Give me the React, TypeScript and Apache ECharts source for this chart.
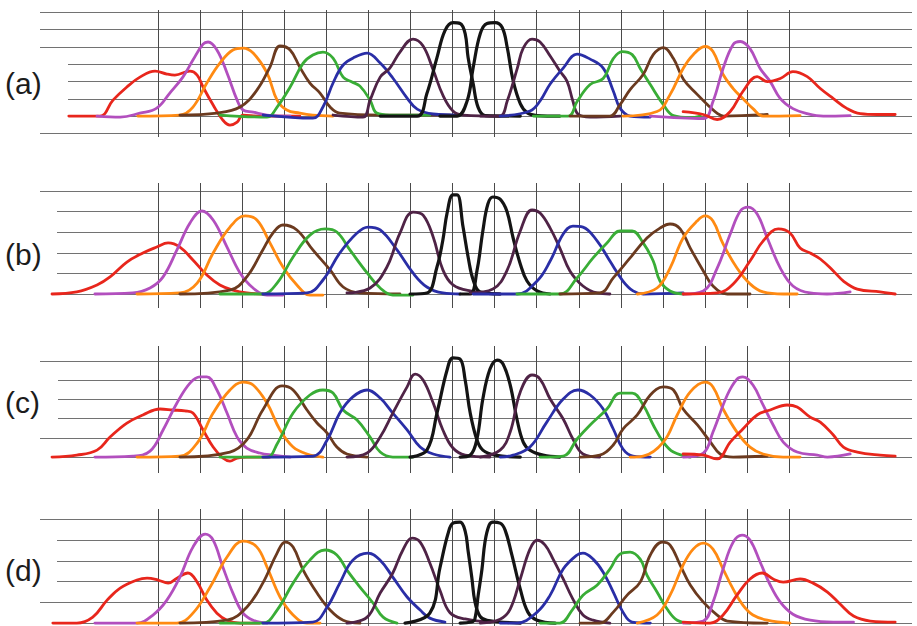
import React, { useEffect, useRef } from "react";
import * as echarts from "echarts";

type Pt = [number, number];

// Channel order across each panel (left to right)
const channelColors = [
  "#e8261c", "#b24fbe", "#ff8a12", "#6b3a1f", "#39ad36", "#2a2ea6", "#4f2346", "#141414",
  "#141414", "#4f2346", "#2a2ea6", "#39ad36", "#6b3a1f", "#ff8a12", "#b24fbe", "#e8261c",
];

const panelLabels = ["(a)", "(b)", "(c)", "(d)"];

// Reference grid: one vertical line per channel centre, horizontal levels in response units
const channelMarks = [1, 2, 3, 4, 5, 6, 7, 8, 9, 10, 11, 12, 13, 14, 15, 16];
const levelsA = [-1, 1, 2, 3, 4, 5, 6];
const levelsB = [1, 2, 3, 4, 5];
const levelsC = [1, 2, 3, 4, 5];
const levelsD = [1, 2, 3, 4, 5];

// Response curves, x = channel position, y = response
const curvesA: Pt[][] = [
  [[-1.12,0],[-0.38,0],[-0.07,0.92],[0.26,1.68],[0.57,2.25],[0.93,2.6],[1.21,2.43],[1.4,2.37],[1.76,2.6],[1.93,2.37],[2.07,1.68],[2.31,0.64],[2.54,-0.23],[2.71,-0.52],[2.88,-0.35],[3.02,0.06],[3.42,0],[4.37,0]],
  [[-0.45,0],[0.1,-0.06],[0.57,0.17],[0.97,0.46],[1.28,1.33],[1.59,2.25],[1.83,3.24],[2.07,4.16],[2.19,4.28],[2.4,3.82],[2.64,2.49],[2.88,0.92],[3.02,0.35],[3.26,0.23],[3.59,0.06],[4.14,0]],
  [[0.52,0],[1.52,0.06],[1.83,0.52],[2.16,1.91],[2.47,3.06],[2.78,3.82],[3.02,3.93],[3.26,3.64],[3.59,2.49],[3.83,0.92],[4.06,0.35],[4.37,0.17],[4.68,0.06],[5.16,0]],
  [[1.52,0.06],[2.4,0.17],[2.95,0.52],[3.35,1.5],[3.66,2.83],[3.9,4.05],[4.14,3.82],[4.37,2.83],[4.61,1.91],[4.85,1.33],[5.09,0.52],[5.32,0.17],[6.28,0.06],[7.94,0.06]],
  [[2.47,0.06],[3.59,-0.06],[3.83,0.52],[4.14,1.68],[4.45,3.06],[4.68,3.53],[4.92,3.7],[5.16,3.35],[5.4,2.25],[5.61,1.97],[5.8,1.73],[6.04,0.92],[6.2,0.17],[6.51,0.06],[7.46,0.06]],
  [[3.5,0.06],[4.68,-0.12],[4.92,0.52],[5.16,1.91],[5.4,2.95],[5.68,3.41],[5.97,3.64],[6.28,3.06],[6.58,2.2],[6.92,1.04],[7.16,0.4],[7.54,0.12],[8.18,0.06]],
  [[5.16,0.06],[5.87,-0.06],[6.04,0.92],[6.28,2.25],[6.51,2.77],[6.75,3.7],[7.06,4.45],[7.3,4.05],[7.54,2.66],[7.77,1.21],[8.01,0.29],[8.25,0.06],[9.13,0]],
  [[6.28,0],[7.16,0],[7.39,1.3],[7.63,3.38],[7.82,4.94],[8.01,5.4],[8.18,5.35],[8.3,4.77],[8.37,3.38],[8.49,1.88],[8.61,0.49],[8.78,0.03],[9.61,0]],
  [[7.7,0],[8.11,0],[8.35,0.9],[8.49,2.8],[8.66,4.77],[8.82,5.35],[9.01,5.4],[9.18,5.12],[9.3,3.96],[9.44,2.05],[9.61,0.72],[9.77,0.2],[10.01,0.03],[10.55,0]],
  [[8.66,0],[9.13,0],[9.3,0.87],[9.54,2.77],[9.68,3.93],[9.89,4.45],[10.08,4.28],[10.32,3.47],[10.55,2.6],[10.72,2.02],[10.86,0.87],[10.98,0.12],[11.27,-0.06],[11.98,0]],
  [[9.13,0],[9.84,0.29],[10.08,0.87],[10.32,1.85],[10.63,2.77],[10.96,3.58],[11.27,3.29],[11.58,2.77],[11.82,1.45],[11.98,0.46],[12.22,0],[12.7,-0.06]],
  [[9.92,0],[10.75,0],[10.96,0.84],[11.27,1.82],[11.58,2.17],[11.82,3.32],[12.03,3.73],[12.27,3.55],[12.46,2.75],[12.7,1.82],[13.01,0.66],[13.25,0.03],[13.65,-0.09],[13.89,0]],
  [[10.79,0],[11.74,0],[11.98,0.66],[12.22,1.53],[12.53,2.4],[12.77,3.55],[13.01,3.96],[13.25,3.32],[13.49,2.11],[13.82,1.24],[14.06,0.66],[14.3,0.14],[14.44,0],[15.48,0.09]],
  [[12.05,0],[12.86,0.26],[13.17,1.24],[13.48,2.75],[13.72,3.55],[14.0,4.02],[14.19,3.73],[14.43,2.4],[14.67,1.59],[14.9,1.01],[15.14,0.43],[15.38,0],[16.26,0.03]],
  [[12.7,0],[13.96,-0.14],[14.19,0.84],[14.43,2.75],[14.67,4.14],[14.84,4.31],[15.07,3.9],[15.31,2.75],[15.55,1.99],[15.79,1.01],[16.09,0.43],[16.43,0.14],[16.81,0],[17.45,0.03]],
  [[13.48,0.26],[13.96,0.09],[14.29,-0.2],[14.6,0.26],[14.9,1.42],[15.24,2.28],[15.48,1.99],[15.79,2.17],[16.09,2.57],[16.43,2.28],[16.74,1.59],[17.05,1.01],[17.38,0.43],[17.69,0.14],[18.09,0.09],[18.52,0.09]],
];

const curvesB: Pt[][] = [
  [[-1.52,0],[-0.93,0.1],[-0.45,0.44],[-0.14,0.83],[0.26,1.55],[0.64,1.99],[0.97,2.28],[1.24,2.48],[1.52,2.28],[1.83,1.65],[2.16,0.92],[2.47,0.44],[2.78,0.19],[3.11,0.05],[3.49,0]],
  [[-0.5,0],[0.4,0.05],[0.81,0.29],[1.12,0.83],[1.45,2.14],[1.76,3.45],[2.04,4.03],[2.31,3.59],[2.64,2.28],[2.95,1.02],[3.26,0.29],[3.59,-0.05],[3.97,-0.05]],
  [[0.5,0],[1.52,0.05],[1.93,0.53],[2.31,1.99],[2.71,3.25],[3.07,3.79],[3.35,3.59],[3.66,2.48],[3.97,1.31],[4.3,0.44],[4.61,-0.05],[4.92,-0.05]],
  [[1.52,0],[2.71,0.19],[3.11,0.83],[3.49,2.14],[3.73,2.96],[3.97,3.35],[4.3,3.11],[4.68,2.14],[5.09,1.17],[5.4,0.34],[5.8,0.05],[6.75,0]],
  [[2.47,0],[3.49,0],[3.83,0.53],[4.21,1.8],[4.61,2.86],[4.97,3.16],[5.25,3.01],[5.56,2.14],[5.97,1.02],[6.28,0.29],[6.58,-0.05],[7.06,-0.05]],
  [[3.49,0],[4.54,0.05],[4.92,0.68],[5.32,1.99],[5.73,2.96],[5.99,3.25],[6.28,3.11],[6.68,2.14],[7.06,1.02],[7.39,0.34],[7.77,0.05],[8.18,0]],
  [[5.49,0.05],[6.04,0.29],[6.44,1.31],[6.75,2.96],[7.06,3.98],[7.3,3.83],[7.54,2.77],[7.77,1.17],[8.01,0.44],[8.42,0.15],[9.13,0]],
  [[6.99,0],[7.39,0.05],[7.63,1.31],[7.77,2.62],[7.87,3.93],[8.01,4.81],[8.11,4.81],[8.25,3.25],[8.37,1.8],[8.49,0.68],[8.66,0.1],[9.13,0]],
  [[8.18,0],[8.42,0],[8.58,1.12],[8.72,3.06],[8.84,4.37],[8.96,4.71],[9.13,4.61],[9.29,4.03],[9.44,2.72],[9.61,1.46],[9.77,0.63],[10.01,0.15],[10.32,0]],
  [[8.42,0.05],[8.96,0.24],[9.29,1.12],[9.61,3.06],[9.89,4.08],[10.08,3.93],[10.32,3.2],[10.55,2.23],[10.79,1.12],[11.1,0.39],[11.44,0.05],[11.74,0]],
  [[8.49,0],[9.53,0],[10.01,0.63],[10.32,1.6],[10.63,2.91],[10.86,3.3],[11.1,3.25],[11.44,2.57],[11.74,1.6],[12.05,0.63],[12.29,0.15],[12.53,0],[13.48,0.05]],
  [[9.53,0],[10.55,0],[10.96,0.78],[11.34,1.75],[11.67,2.48],[11.98,3.06],[12.27,3.06],[12.53,2.48],[12.77,1.6],[12.93,0.63],[13.17,0.15],[13.48,0]],
  [[10.55,0],[11.5,0.05],[11.82,0.78],[12.22,1.75],[12.62,2.72],[12.93,3.2],[13.17,3.4],[13.41,3.16],[13.65,2.23],[13.96,1.12],[14.19,0.39],[14.53,0],[15.07,0]],
  [[12.39,0],[12.86,0.29],[13.17,1.26],[13.48,2.72],[13.81,3.54],[14.0,3.79],[14.19,3.54],[14.43,2.43],[14.76,1.26],[15.07,0.49],[15.38,0.1],[15.86,0],[16.19,0]],
  [[13.48,0],[13.96,0.15],[14.29,1.26],[14.6,2.91],[14.84,4.03],[15.03,4.22],[15.24,3.88],[15.48,2.72],[15.79,1.26],[16.09,0.39],[16.5,0.05],[16.9,0],[17.45,0.1]],
  [[13.48,0],[14.29,0.05],[14.67,0.49],[15.07,1.6],[15.38,2.57],[15.74,3.16],[16.02,2.96],[16.26,2.23],[16.5,1.99],[16.74,1.7],[17.05,1.12],[17.29,0.63],[17.62,0.24],[18.16,0.1],[18.52,0]],
];

const curvesC: Pt[][] = [
  [[-1.52,0],[-0.93,0.1],[-0.45,0.36],[-0.14,1.04],[0.26,1.77],[0.64,2.19],[1.05,2.5],[1.35,2.45],[1.64,2.4],[1.83,2.29],[2.07,1.41],[2.31,0.52],[2.54,-0.05],[2.71,-0.21],[2.88,-0.05],[3.11,0],[3.66,0]],
  [[-0.5,0],[0.4,0.05],[0.81,0.31],[1.12,1.41],[1.45,2.81],[1.76,3.85],[2.0,4.17],[2.16,4.17],[2.4,3.49],[2.64,2.29],[2.88,1.04],[3.11,0.47],[3.42,0.21],[3.73,0.1],[4.14,0]],
  [[0.5,0],[1.52,0.05],[1.93,0.73],[2.31,2.29],[2.71,3.49],[3.02,3.9],[3.26,3.75],[3.59,2.81],[3.9,1.41],[4.21,0.52],[4.54,0.16],[4.92,0]],
  [[1.52,0],[2.71,0.26],[3.11,0.89],[3.49,2.45],[3.95,3.7],[4.21,3.49],[4.54,2.45],[4.78,1.77],[5.02,1.25],[5.25,0.52],[5.49,0.16],[5.97,0]],
  [[2.47,0],[3.59,0],[3.83,0.68],[4.21,2.29],[4.61,3.23],[4.92,3.49],[5.16,3.33],[5.4,2.45],[5.73,1.93],[6.04,1.04],[6.28,0.26],[6.58,0],[7.06,0]],
  [[3.49,0],[4.68,0.05],[5.02,0.89],[5.32,2.29],[5.63,3.13],[5.97,3.49],[6.28,3.07],[6.58,2.29],[6.92,1.41],[7.23,0.52],[7.54,0.16],[7.94,0]],
  [[5.49,0],[5.97,0.21],[6.28,1.04],[6.58,2.29],[6.92,3.65],[7.11,4.32],[7.3,4.01],[7.54,2.81],[7.77,1.41],[8.01,0.47],[8.3,0.1],[8.89,0]],
  [[6.99,0],[7.39,0.36],[7.63,2.29],[7.87,4.53],[8.01,5.16],[8.18,5.1],[8.3,4.01],[8.42,2.29],[8.58,0.89],[8.72,0.36],[9.01,0.1],[9.61,0]],
  [[8.18,0],[8.42,0.1],[8.58,0.94],[8.72,3.02],[8.89,4.58],[9.06,5.05],[9.2,4.84],[9.37,3.75],[9.53,1.98],[9.68,0.78],[9.84,0.36],[10.15,0.1],[10.55,0]],
  [[8.66,0],[9.13,0.36],[9.37,1.3],[9.61,3.39],[9.89,4.27],[10.08,4.06],[10.32,3.02],[10.63,1.98],[10.86,0.94],[11.1,0.16],[11.5,0]],
  [[9.13,0],[9.44,0.1],[9.84,0.52],[10.24,1.82],[10.63,3.02],[10.98,3.49],[11.27,3.23],[11.58,2.5],[11.82,1.46],[12.05,0.42],[12.29,0.05],[12.7,0]],
  [[10.08,0],[10.63,0.05],[10.96,0.94],[11.27,1.67],[11.67,2.5],[11.98,3.33],[12.27,3.33],[12.53,2.71],[12.77,1.67],[13.01,0.78],[13.25,0.26],[13.65,0]],
  [[11.03,0],[11.5,0.1],[11.82,0.63],[12.05,1.46],[12.39,2.19],[12.7,3.23],[13.01,3.65],[13.25,3.49],[13.48,2.5],[13.82,1.67],[14.13,0.78],[14.36,0.16],[14.67,0],[15.48,0.05]],
  [[12.22,0],[12.53,0.05],[13.01,0.78],[13.34,2.19],[13.65,3.39],[14.0,3.9],[14.19,3.65],[14.43,2.5],[14.76,1.3],[15.07,0.52],[15.38,0.16],[15.86,0],[16.26,0]],
  [[13.48,0],[13.96,0.21],[14.19,1.3],[14.53,3.23],[14.76,4.06],[14.9,4.17],[15.14,3.75],[15.38,2.71],[15.62,1.67],[15.86,0.78],[16.19,0.26],[16.67,0.1],[16.91,0],[17.45,0.16]],
  [[13.48,0.16],[13.96,0.1],[14.29,-0.1],[14.6,0.78],[14.9,1.46],[15.24,2.19],[15.55,2.45],[15.95,2.71],[16.19,2.6],[16.5,2.08],[16.74,1.82],[17.05,1.15],[17.29,0.52],[17.62,0.26],[18.16,0.1],[18.52,0.05]],
];

const curvesD: Pt[][] = [
  [[-1.5,0],[-0.93,0],[-0.55,0.29],[-0.21,1.11],[0.1,1.69],[0.5,2.08],[0.74,2.17],[1.0,2.08],[1.24,1.93],[1.45,2.17],[1.71,2.42],[1.93,1.98],[2.16,1.11],[2.4,0.48],[2.64,0.14],[2.95,0],[3.42,0]],
  [[-0.5,0],[0.5,0],[0.88,0.39],[1.21,1.11],[1.52,2.22],[1.83,3.67],[2.12,4.3],[2.31,4.01],[2.54,2.71],[2.78,1.45],[3.02,0.48],[3.26,0.14],[3.59,0]],
  [[0.5,0],[1.45,0],[1.83,0.48],[2.24,1.74],[2.64,3.19],[3.02,3.96],[3.35,3.67],[3.59,2.71],[3.9,1.26],[4.21,0.39],[4.54,0],[4.85,0]],
  [[1.52,0],[2.64,0.14],[3.11,0.77],[3.49,1.93],[3.83,3.38],[4.02,3.91],[4.21,3.67],[4.45,2.56],[4.78,1.45],[5.09,0.63],[5.4,0.14],[5.8,0]],
  [[2.47,0],[3.49,0],[3.83,0.63],[4.21,1.93],[4.61,3.04],[4.97,3.53],[5.25,3.29],[5.49,2.56],[5.8,1.74],[6.11,0.97],[6.35,0.29],[6.68,0]],
  [[3.49,0],[4.68,0.05],[5.02,0.77],[5.32,1.93],[5.63,3.04],[5.99,3.38],[6.28,3.04],[6.58,2.22],[6.92,1.26],[7.23,0.63],[7.46,0.24],[7.82,0.05]],
  [[5.49,0],[5.97,0.29],[6.28,1.45],[6.58,2.42],[6.82,3.53],[7.04,4.1],[7.23,3.91],[7.46,2.9],[7.7,1.59],[7.94,0.5],[8.3,0.2],[8.89,0.05]],
  [[6.87,0],[7.46,0.48],[7.7,2.66],[7.89,4.3],[8.01,4.83],[8.18,4.88],[8.3,4.44],[8.37,3.48],[8.46,2.17],[8.53,1.06],[8.65,0.34],[8.82,0.14],[9.61,0]],
  [[8.18,0],[8.45,0.05],[8.53,0.19],[8.61,1.35],[8.7,2.61],[8.77,3.91],[8.87,4.73],[8.96,4.88],[9.13,4.83],[9.25,4.49],[9.41,3.29],[9.61,1.64],[9.79,0.53],[10.01,0.14],[10.44,0]],
  [[8.66,0],[9.13,0.19],[9.37,0.68],[9.61,2.13],[9.84,3.57],[10.01,4.0],[10.2,3.77],[10.39,3.09],[10.63,2.13],[10.86,1.16],[11.1,0.39],[11.34,0.14],[11.74,0]],
  [[9.13,0],[9.53,0],[10.01,0.53],[10.32,1.35],[10.63,2.61],[10.96,3.29],[11.1,3.38],[11.34,3.09],[11.58,2.46],[11.82,1.5],[12.05,0.53],[12.27,0.05],[12.7,0]],
  [[10.08,0],[10.55,0],[10.86,0.68],[11.1,1.35],[11.44,1.84],[11.74,2.61],[11.98,3.33],[12.22,3.43],[12.46,3.09],[12.62,2.32],[12.86,1.5],[13.1,0.68],[13.34,0.14],[13.65,0]],
  [[11.03,0],[11.5,0],[11.82,0.53],[12.15,1.35],[12.46,1.98],[12.7,3.29],[12.98,3.91],[13.17,3.77],[13.41,2.8],[13.65,1.84],[13.96,1.01],[14.29,0.39],[14.53,0.1],[15.48,0]],
  [[12.39,0],[12.86,0.39],[13.17,1.35],[13.48,2.8],[13.72,3.57],[13.96,3.86],[14.19,3.57],[14.43,2.61],[14.67,1.64],[14.9,0.87],[15.14,0.39],[15.48,0.14],[16.02,0]],
  [[13.48,0],[13.96,0.1],[14.19,1.01],[14.43,2.61],[14.67,3.91],[14.88,4.25],[15.07,4.01],[15.31,2.95],[15.55,1.84],[15.79,1.01],[16.09,0.43],[16.5,0.14],[17.05,0.05],[17.53,0.05]],
  [[13.48,0.05],[14.12,0],[14.43,0.39],[14.76,1.35],[15.07,2.13],[15.36,2.42],[15.62,2.13],[15.86,1.98],[16.26,2.13],[16.57,1.93],[16.91,1.5],[17.21,0.92],[17.53,0.34],[17.93,0.1],[18.52,0.05]],
];

// Layout of the four stacked panels (pixels and axis extents)
const X_MIN = -1.805;
const X_MAX = 18.92;
const panelLayout = [
  { curves: curvesA, levels: levelsA, top: 10, height: 127, yMin: -1.21, yMax: 6.13, labelY: 83, box: [0, 55, 68, 55] },
  { curves: curvesB, levels: levelsB, top: 183, height: 125, yMin: -0.68, yMax: 5.39, labelY: 254, box: [0, 202, 57, 84] },
  { curves: curvesC, levels: levelsC, top: 346, height: 127, yMin: -0.83, yMax: 5.78, labelY: 402, box: [0, 370, 58, 58] },
  { curves: curvesD, levels: levelsD, top: 509, height: 117, yMin: -0.14, yMax: 5.51, labelY: 570, box: [0, 532, 57, 62] },
];

const H_LINE = { color: "#727272", width: 1, type: "solid" as const };
const V_LINE = { color: "#4a4a4a", width: 1, type: "solid" as const };

function buildOption() {
  const grid: any[] = [];
  const xAxis: any[] = [];
  const yAxis: any[] = [];
  const series: any[] = [];
  const graphic: any[] = [];

  panelLayout.forEach((p, i) => {
    grid.push({ left: 40, right: 5, top: p.top, height: p.height, containLabel: false });
    xAxis.push({ type: "value", gridIndex: i, min: X_MIN, max: X_MAX, show: false });
    yAxis.push({ type: "value", gridIndex: i, min: p.yMin, max: p.yMax, show: false });

    const startX = Math.min(...p.curves.map((c) => c[0][0]));
    const markData: any[] = [
      ...p.levels.map((v) => ({ yAxis: v, lineStyle: H_LINE })),
      [
        { coord: [startX, 0], lineStyle: H_LINE },
        { coord: [X_MAX, 0] },
      ],
      ...channelMarks.map((k) => ({ xAxis: k, lineStyle: V_LINE })),
    ];

    series.push({
      type: "line",
      xAxisIndex: i,
      yAxisIndex: i,
      data: [[X_MIN, 0]],
      symbol: "none",
      silent: true,
      lineStyle: { width: 0, opacity: 0 },
      z: 1,
      markLine: {
        silent: true,
        symbol: ["none", "none"],
        z: 1,
        label: { show: false },
        emphasis: { disabled: true },
        data: markData,
      },
    });

    p.curves.forEach((curve, ci) => {
      const color = channelColors[ci];
      const dark = color === "#141414";
      series.push({
        type: "line",
        xAxisIndex: i,
        yAxisIndex: i,
        data: curve,
        smooth: 0.4,
        symbol: "none",
        silent: true,
        clip: false,
        z: 3,
        lineStyle: { color, width: dark ? 3.2 : 2.8, cap: "round", join: "round" },
        itemStyle: { color },
      });
    });

    const [bx, by, bw, bh] = p.box;
    graphic.push({
      type: "rect",
      shape: { x: bx, y: by, width: bw, height: bh },
      style: { fill: "#ffffff" },
      z: 50,
      silent: true,
    });
    graphic.push({
      type: "text",
      x: 5,
      y: p.labelY,
      z: 51,
      silent: true,
      style: {
        text: panelLabels[i],
        fontSize: 30,
        fontFamily: "Liberation Sans, Arial, sans-serif",
        fill: "#1c1c1c",
        verticalAlign: "middle",
      },
    });
  });

  return {
    animation: false,
    backgroundColor: "#ffffff",
    grid,
    xAxis,
    yAxis,
    series,
    graphic,
  };
}

export default function App() {
  const ref = useRef<HTMLDivElement>(null);
  useEffect(() => {
    if (!ref.current) return;
    const chart = echarts.init(ref.current, null, { renderer: "svg" });
    chart.setOption(buildOption());
    return () => chart.dispose();
  }, []);
  return (
    <div
      ref={ref}
      style={{ position: "fixed", left: 0, top: 0, width: 917, height: 626, background: "#ffffff" }}
    />
  );
}
